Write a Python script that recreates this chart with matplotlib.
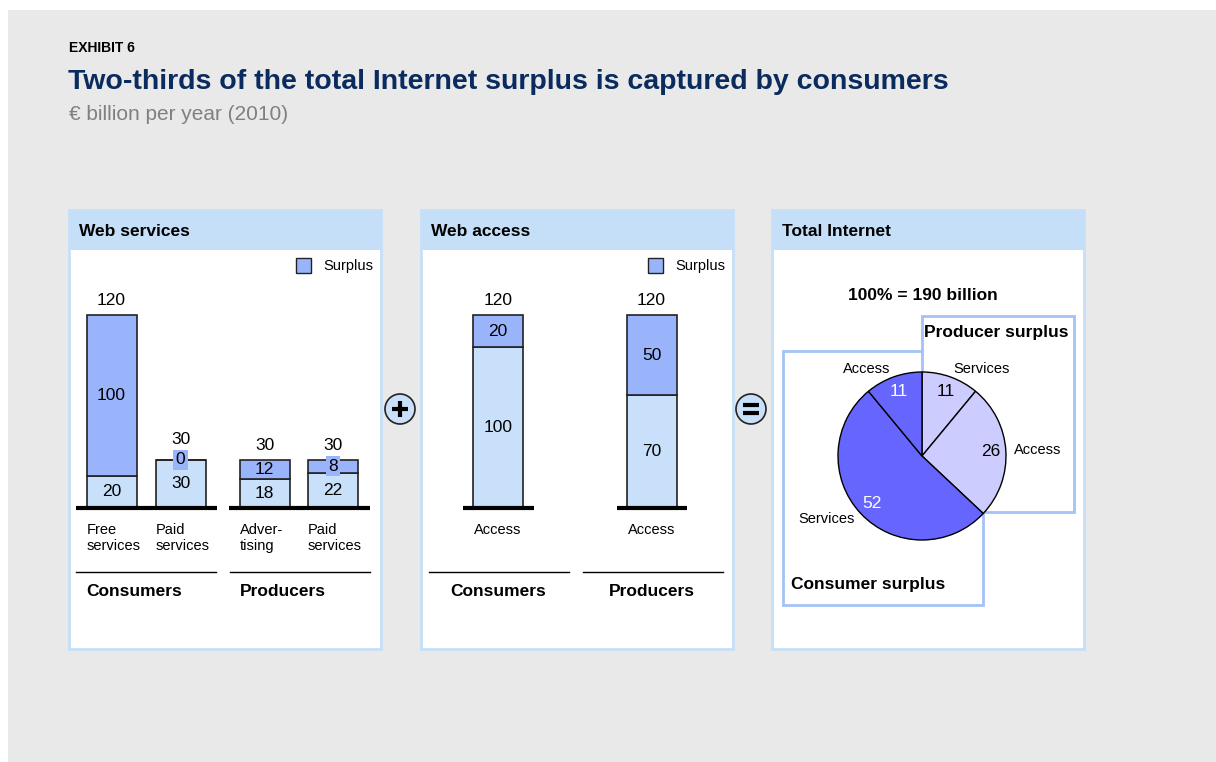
import matplotlib.pyplot as plt
from matplotlib.patches import Rectangle, Circle

plt.rcParams['font.family'] = ['Liberation Sans', 'DejaVu Sans']

# Web services: consumers (free, paid) and producers (advertising, paid)
ws_categories = ['Free\nservices', 'Paid\nservices', 'Adver-\ntising', 'Paid\nservices']
ws_base = [20, 30, 18, 22]
ws_surplus = [100, 0, 12, 8]
ws_groups = ['Consumers', 'Producers']

# Web access
wa_categories = ['Access', 'Access']
wa_base = [100, 70]
wa_surplus = [20, 50]
wa_groups = ['Consumers', 'Producers']

# Total Internet split (percent of 190 billion)
pie_labels = ['Services', 'Access', 'Services', 'Access']
pie_values = [11, 26, 52, 11]
pie_owner = ['producer', 'producer', 'consumer', 'consumer']

W, H = 1216, 762
BG = '#e9e9e9'
PANEL = '#c6dff8'
SURPLUS = '#99b4fb'
BASE = '#c8e0fa'
EDGE = '#222222'
BOXEDGE = '#a4c2f6'
PIE_COL = {'producer': '#ccccff', 'consumer': '#6666ff'}
PIE_TXT = {'producer': 'black', 'consumer': 'white'}

fig = plt.figure(figsize=(W / 100, H / 100), dpi=100)
fig.patch.set_facecolor('white')


def px_axes(x0, y0, x1, y1, z=2):
    ax = fig.add_axes([x0 / W, 1 - y1 / H, (x1 - x0) / W, (y1 - y0) / H])
    ax.set_zorder(z)
    ax.patch.set_alpha(0)
    ax.set_axis_off()
    return ax


# canvas in pixel units for the frame, panels and headings
bg = px_axes(0, 0, W, H, z=0)
bg.set_xlim(0, W)
bg.set_ylim(H, 0)
bg.add_patch(Rectangle((8, 10), W - 8, H - 10, facecolor=BG, edgecolor='none'))

bg.text(69, 48, 'EXHIBIT 6', fontsize=10, fontweight='bold', va='center')
bg.text(68, 82, 'Two-thirds of the total Internet surplus is captured by consumers',
        fontsize=20.5, fontweight='bold', color='#0a2b5e', va='center')
bg.text(69, 114, '€ billion per year (2010)', fontsize=15, color='#808080', va='center')

panel_x = [69, 421, 772]
panel_titles = ['Web services', 'Web access', 'Total Internet']
for px, title in zip(panel_x, panel_titles):
    bg.add_patch(Rectangle((px, 210), 312, 439, facecolor='white', edgecolor=PANEL, lw=2))
    bg.add_patch(Rectangle((px, 210), 312, 40, facecolor=PANEL, edgecolor='none'))
    bg.text(px + 10, 232, title, fontsize=12.5, fontweight='bold', va='center')

# legends for the two bar panels
for px in panel_x[:2]:
    bg.add_patch(Rectangle((px + 227, 258), 15, 15, facecolor=SURPLUS, edgecolor=EDGE, lw=1))
    bg.text(px + 254, 266, 'Surplus', fontsize=10.5, va='center')

# plus and equals signs between panels
for cx in [400, 751]:
    bg.add_patch(Circle((cx, 409), 15, facecolor=BASE, edgecolor=EDGE, lw=1.2))
bg.plot([392, 408], [409, 409], color='black', lw=3, solid_capstyle='butt')
bg.plot([400, 400], [401, 417], color='black', lw=3, solid_capstyle='butt')
bg.plot([743, 759], [405, 405], color='black', lw=3, solid_capstyle='butt')
bg.plot([743, 759], [413, 413], color='black', lw=3, solid_capstyle='butt')


def stacked(ax, xs, base, surplus, cats, width=50):
    b1 = ax.bar(xs, base, width=width, color=BASE, edgecolor=EDGE, lw=1.2)
    b2 = ax.bar(xs, surplus, bottom=base, width=width, color=SURPLUS, edgecolor=EDGE, lw=1.2)
    for p in list(b1) + list(b2):
        p.set_clip_on(False)
    for x, b, s, c in zip(xs, base, surplus, cats):
        ax.text(x, b / 2, str(b), ha='center', va='center', fontsize=12.5)
        if s < 10:
            # thin segments get a filled tag so the number stays readable
            ax.text(x, b + s / 2, str(s), ha='center', va='center', fontsize=12.5,
                    bbox=dict(boxstyle='square,pad=0.15', facecolor=SURPLUS, edgecolor='none'))
        else:
            ax.text(x, b + s / 2, str(s), ha='center', va='center', fontsize=12.5)
        lift = 14 if s > 0 else 20
        ax.annotate(str(b + s), (x, b + s), xytext=(0, lift * 0.72), textcoords='offset points',
                    ha='center', va='center', fontsize=12.5)


# Web services bars
ax1 = px_axes(76, 315, 370, 508)
ax1.set_xlim(76, 370)
ax1.set_ylim(0, 120)
ws_x = [111.5, 180.5, 264.5, 333]
stacked(ax1, ws_x, ws_base, ws_surplus, ws_categories)
ax1.hlines([0, 0], [76, 229], [217, 370], color='black', lw=3, clip_on=False)
for x, c in zip(ws_x, ws_categories):
    ax1.annotate(c, (x - 25, 0), xytext=(0, -11), textcoords='offset points',
                 ha='left', va='top', fontsize=10.5, linespacing=1.2)
for (x0, x1), g in zip([(76, 216), (230, 370)], ws_groups):
    bg.plot([x0, x1], [572, 572], color='black', lw=1)
    bg.text(x0 + 10, 591, g, fontsize=12.5, fontweight='bold', va='center')

# Web access bars
ax2 = px_axes(463, 315, 687, 508)
ax2.set_xlim(463, 687)
ax2.set_ylim(0, 120)
wa_x = [498, 651.5]
stacked(ax2, wa_x, wa_base, wa_surplus, wa_categories)
ax2.hlines([0, 0], [463, 617], [534, 687], color='black', lw=3, clip_on=False)
for x, c in zip(wa_x, wa_categories):
    ax2.annotate(c, (x, 0), xytext=(0, -11), textcoords='offset points',
                 ha='center', va='top', fontsize=10.5)
for (x0, x1), g, x in zip([(429, 569), (583, 723)], wa_groups, wa_x):
    bg.plot([x0, x1], [572, 572], color='black', lw=1)
    bg.text(x, 591, g, fontsize=12.5, fontweight='bold', ha='center', va='center')

# Total Internet: surplus boxes behind the pie
bg.text(923, 295, '100% = 190 billion', fontsize=12.5, fontweight='bold', ha='center', va='center')
bg.add_patch(Rectangle((783, 351), 200, 254, facecolor='white', edgecolor=BOXEDGE, lw=2))
bg.add_patch(Rectangle((922, 316), 152, 196, facecolor='white', edgecolor=BOXEDGE, lw=2))
bg.text(924, 332, 'Producer surplus', fontsize=12.5, fontweight='bold', va='center')
bg.text(791, 585, 'Consumer surplus', fontsize=12.5, fontweight='bold', va='center')

ax3 = px_axes(838, 372, 1006, 540, z=3)
wedges, outer, inner = ax3.pie(
    pie_values, labels=pie_labels, colors=[PIE_COL[o] for o in pie_owner],
    startangle=90, counterclock=False, labeldistance=1.1, pctdistance=0.82,
    autopct=lambda p: f'{round(p):d}',
    wedgeprops=dict(edgecolor='black', lw=1), textprops=dict(fontsize=12.5))
for w in wedges:
    w.set_clip_on(False)
for t in outer:
    t.set_fontsize(10.5)
for t, o in zip(inner, pie_owner):
    t.set_color(PIE_TXT[o])
ax3.set_xlim(-1, 1)
ax3.set_ylim(-1, 1)

fig.savefig('out.png', dpi=100, facecolor=fig.get_facecolor())
